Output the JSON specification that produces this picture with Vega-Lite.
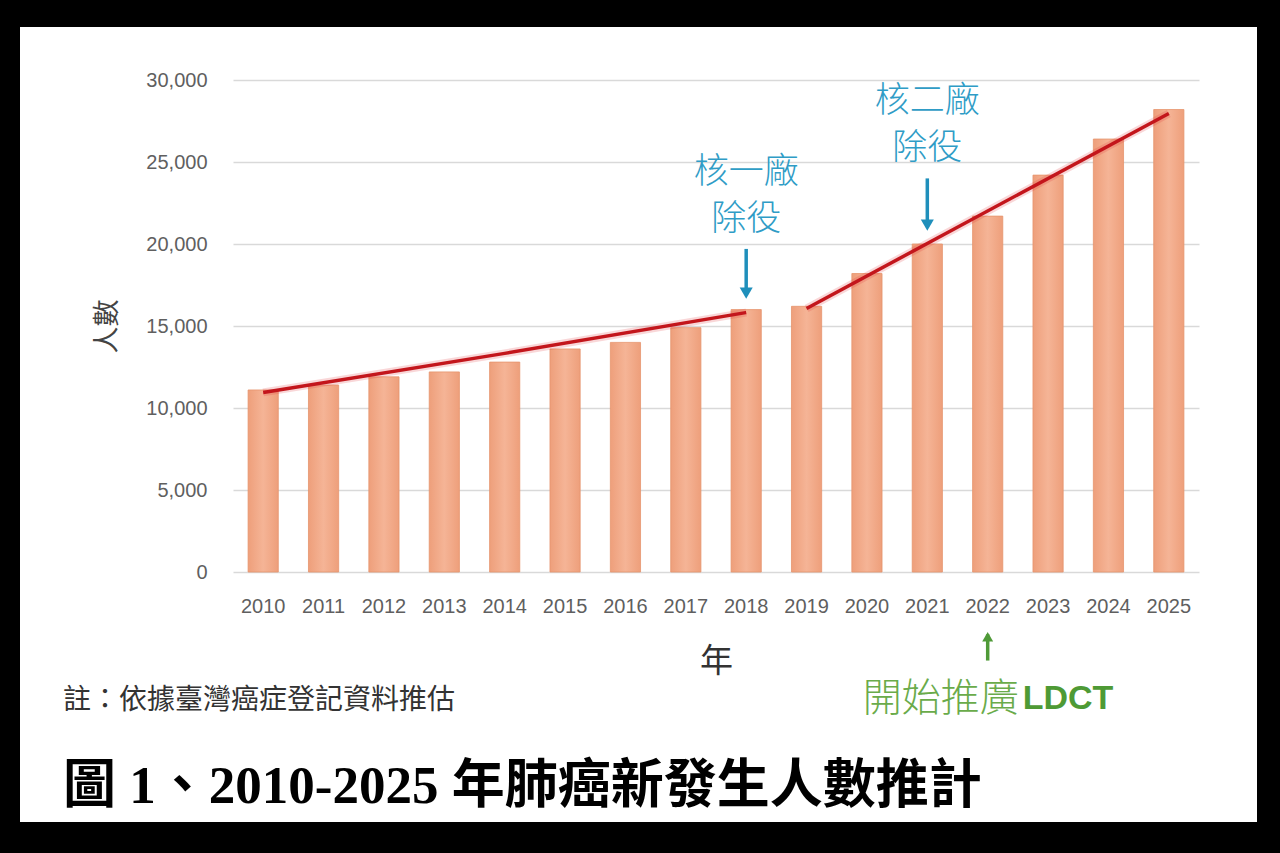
{
  "$schema": "https://vega.github.io/schema/vega-lite/v6.json",
  "description": "2010-2025 lung cancer new cases projection, Taiwan",
  "autosize": "none",
  "width": 1237,
  "height": 795,
  "padding": {"left": 20, "top": 27, "right": 23, "bottom": 31},
  "background": "black",
  "config": {
    "view": {"fill": "white", "stroke": null},
    "font": "Noto Sans CJK TC"
  },
  "title": {
    "text": "註：依據臺灣癌症登記資料推估",
    "subtitle": "圖  1、2010-2025 年肺癌新發生人數推計",
    "orient": "bottom",
    "frame": "group",
    "anchor": "start",
    "offset": -135,
    "dx": 43,
    "font": "Liberation Serif, Noto Sans CJK TC",
    "fontSize": 28,
    "fontWeight": "normal",
    "color": "#333333",
    "subtitleFont": "Liberation Serif, Noto Sans CJK TC",
    "subtitleFontSize": 53,
    "subtitleFontWeight": "bold",
    "subtitleColor": "#000000",
    "subtitlePadding": 46
  },
  "datasets": {
    "cases": [
      {"year": "2010", "value": 11100},
      {"year": "2011", "value": 11400},
      {"year": "2012", "value": 11900},
      {"year": "2013", "value": 12200},
      {"year": "2014", "value": 12800},
      {"year": "2015", "value": 13600},
      {"year": "2016", "value": 14000},
      {"year": "2017", "value": 14900},
      {"year": "2018", "value": 16000},
      {"year": "2019", "value": 16200},
      {"year": "2020", "value": 18200},
      {"year": "2021", "value": 20000},
      {"year": "2022", "value": 21700},
      {"year": "2023", "value": 24200},
      {"year": "2024", "value": 26400},
      {"year": "2025", "value": 28200}
    ],
    "trend": [
      {"year": "2010", "value": 10950, "seg": "a"},
      {"year": "2014", "value": 13330, "seg": "a"},
      {"year": "2018", "value": 15820, "seg": "a"},
      {"year": "2019", "value": 16070, "seg": "b"},
      {"year": "2025", "value": 27960, "seg": "b"}
    ],
    "plants": [
      {"year": "2018", "value": 24400, "label": ["核一廠", "除役"]},
      {"year": "2021", "value": 28750, "label": ["核二廠", "除役"]}
    ],
    "blueArrows": [
      {"year": "2018", "top": 19700, "bottom": 17300, "tip": 17000},
      {"year": "2021", "top": 24000, "bottom": 21450, "tip": 21150}
    ],
    "greenArrow": [
      {"year": "2022", "top": -3800, "bottom": -5400, "tip": -3950}
    ],
    "ldct": [
      {"year": "2022", "value": -7750, "zh": "開始推廣", "en": "LDCT"}
    ]
  },
  "layer": [
    {
      "data": {"name": "cases"},
      "mark": {
        "type": "bar",
        "color": {
          "gradient": "linear",
          "x1": 0, "x2": 1, "y1": 0, "y2": 0,
          "stops": [
            {"offset": 0, "color": "#ee9f7b"},
            {"offset": 0.5, "color": "#f5b496"},
            {"offset": 1, "color": "#ee9f7b"}
          ]
        },
        "stroke": "#e6946d",
        "strokeWidth": 0.8
      },
      "encoding": {
        "x": {
          "field": "year",
          "type": "ordinal",
          "scale": {
            "domain": ["2010", "2011", "2012", "2013", "2014", "2015", "2016", "2017", "2018", "2019", "2020", "2021", "2022", "2023", "2024", "2025"],
            "range": [213, 1179],
            "paddingInner": 0.5,
            "paddingOuter": 0.25
          },
          "axis": {
            "title": "年",
            "orient": "bottom",
            "offset": -250,
            "labelAngle": 0,
            "ticks": false,
            "tickSize": 0,
            "domain": false,
            "labelPadding": 24,
            "labelFont": "Liberation Sans",
            "labelFontSize": 20,
            "labelColor": "#5f5f5f",
            "titleFont": "Noto Sans CJK TC",
            "titleFontSize": 33,
            "titleFontWeight": "normal",
            "titleColor": "#333333",
            "titleY": 89,
            "titleBaseline": "middle"
          }
        },
        "y": {
          "field": "value",
          "type": "quantitative",
          "scale": {"domain": [0, 30000], "range": [545, 53], "nice": false, "zero": true},
          "axis": {
            "title": "人數",
            "offset": -193,
            "values": [0, 5000, 10000, 15000, 20000, 25000, 30000],
            "format": ",.0f",
            "ticks": false,
            "tickSize": 0,
            "domain": false,
            "grid": true,
            "gridColor": "#d9d9d9",
            "gridWidth": 1.5,
            "labelPadding": 6,
            "labelFont": "Liberation Sans",
            "labelFontSize": 20,
            "labelColor": "#5f5f5f",
            "titleFont": "Noto Sans CJK TC",
            "titleFontSize": 27,
            "titleFontWeight": "normal",
            "titleColor": "#444444",
            "titleX": -106,
            "titleBaseline": "middle"
          }
        }
      }
    },
    {
      "data": {"name": "trend"},
      "mark": {"type": "line", "color": "#e0383c", "strokeWidth": 8, "opacity": 0.2, "interpolate": "monotone"},
      "encoding": {
        "x": {"field": "year", "type": "ordinal"},
        "y": {"field": "value", "type": "quantitative"},
        "detail": {"field": "seg"}
      }
    },
    {
      "data": {"name": "trend"},
      "mark": {"type": "line", "color": "#c3161c", "strokeWidth": 3.5, "interpolate": "monotone"},
      "encoding": {
        "x": {"field": "year", "type": "ordinal"},
        "y": {"field": "value", "type": "quantitative"},
        "detail": {"field": "seg"}
      }
    },
    {
      "data": {"name": "plants"},
      "mark": {"type": "text", "font": "Noto Sans CJK TC", "fontSize": 35, "fontWeight": 300, "color": "#2f9cc6", "baseline": "middle", "lineHeight": 47},
      "encoding": {
        "x": {"field": "year", "type": "ordinal"},
        "y": {"field": "value", "type": "quantitative"},
        "text": {"field": "label"}
      }
    },
    {
      "data": {"name": "blueArrows"},
      "mark": {"type": "rule", "color": "#1f8fbb", "strokeWidth": 3.5},
      "encoding": {
        "x": {"field": "year", "type": "ordinal"},
        "y": {"field": "top", "type": "quantitative"},
        "y2": {"field": "bottom"}
      }
    },
    {
      "data": {"name": "blueArrows"},
      "mark": {"type": "point", "shape": "triangle-down", "filled": true, "color": "#1f8fbb", "size": 170, "opacity": 1},
      "encoding": {
        "x": {"field": "year", "type": "ordinal"},
        "y": {"field": "tip", "type": "quantitative"}
      }
    },
    {
      "data": {"name": "greenArrow"},
      "mark": {"type": "rule", "color": "#4f9a38", "strokeWidth": 3.5},
      "encoding": {
        "x": {"field": "year", "type": "ordinal"},
        "y": {"field": "top", "type": "quantitative"},
        "y2": {"field": "bottom"}
      }
    },
    {
      "data": {"name": "greenArrow"},
      "mark": {"type": "point", "shape": "triangle-up", "filled": true, "color": "#4f9a38", "size": 120, "opacity": 1},
      "encoding": {
        "x": {"field": "year", "type": "ordinal"},
        "y": {"field": "tip", "type": "quantitative"}
      }
    },
    {
      "data": {"name": "ldct"},
      "mark": {"type": "text", "font": "Noto Sans CJK TC", "fontSize": 39, "fontWeight": 300, "color": "#6aab4a", "align": "right", "baseline": "middle", "dx": 31},
      "encoding": {
        "x": {"field": "year", "type": "ordinal"},
        "y": {"field": "value", "type": "quantitative"},
        "text": {"field": "zh"}
      }
    },
    {
      "data": {"name": "ldct"},
      "mark": {"type": "text", "font": "Liberation Sans", "fontSize": 34, "fontWeight": "bold", "color": "#4e9a35", "align": "left", "baseline": "middle", "dx": 35},
      "encoding": {
        "x": {"field": "year", "type": "ordinal"},
        "y": {"field": "value", "type": "quantitative"},
        "text": {"field": "en"}
      }
    }
  ]
}
